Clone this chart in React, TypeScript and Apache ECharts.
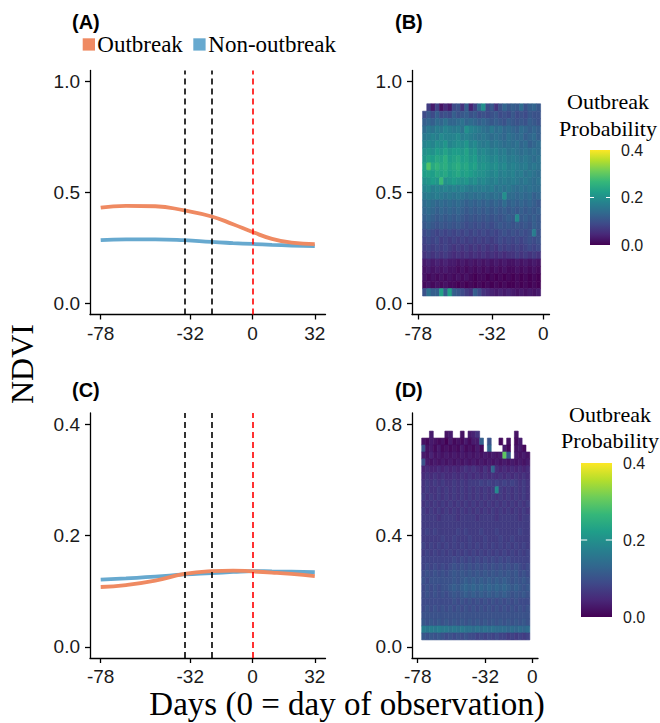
import React, { useEffect, useRef } from "react";
import * as echarts from "echarts";

// ---- Smoothed NDVI trajectories, days relative to the day of observation ----
const curveDays = [-78, -65, -50, -35, -21, -10, 0, 10, 20, 32];
const outbreakA = [0.432, 0.44, 0.438, 0.419, 0.392, 0.357, 0.322, 0.291, 0.274, 0.267];
const nonOutbreakA = [0.285, 0.289, 0.289, 0.285, 0.277, 0.272, 0.268, 0.264, 0.261, 0.258];
const outbreakC = [0.1075, 0.111, 0.119, 0.131, 0.136, 0.137, 0.1355, 0.1335, 0.131, 0.127];
const nonOutbreakC = [0.1206, 0.123, 0.126, 0.13, 0.1325, 0.1345, 0.136, 0.1355, 0.135, 0.134];

// Reference days marked with dashed lines
const blackRefDays = [-35, -21];
const redRefDay = 0;

// Tick values
const xTicksLine = [-78, -32, 0, 32];
const xTicksHeat = [-78, -32, 0];
const yTicksA = [0, 0.5, 1];
const yTicksC = [0, 0.2, 0.4];
const yTicksD = [0, 0.4, 0.8];
const colorbarTicks = [0.4, 0.2, 0.0];

// ---- Outbreak probability grids (lag day x NDVI bin) ----
// Each character is a probability in hundredths written in base 36
// ('0'..'9' = 0.00..0.09, 'A' = 0.10, 'K' = 0.20, 'U' = 0.30); '.' = no data.
// Rows are listed from the highest NDVI bin down to the lowest.
const heatDayStart = -75.3;
const heatDayStep = 2.63;

const heatBNdviStart = 1 / 30;
const heatBNdviStep = 1 / 30;
const heatBRows = [
  ".738253 9A6C48E K9B6ADB CBEACDB",
  "9B9C9A9 CABCAB9 A9AB9A9 B9A9BAA",
  "CDCEDFD DEFDEDC DCBCBAC BABACBA",
  "EGFHGIH GHFKIHG FEGEFDE DCEDCDC",
  "GHIHJII IJHIHGF GFEFEDF EDECDEC",
  "IJIKJLI JKJLIJH GHFGFEF EFDECDE",
  "KLKMLNL MMLNKLI JIHIGHF GFEFEFE",
  "LNMONPM NOMNLMJ KJIJHIG HGFGFEF",
  "NTOQOPN OPNOMNK LKJKIJH IHGHFGF",
  "MNMONOM NOMNMLK KJIJHIH IGHFGFE",
  "KLMLRKL MLKLJKI JIHIGHG HGFGFEF",
  "IJHIHIH IHIHGHG HGHFGFG FEFEFEE",
  "GHGHGFG FGFEFEF EFEFEKE EDEDECD",
  "EFEDEDE DEDCDCD CDCDCEC DCDCDCB",
  "DEDCDCD CDCBCBC BCBCBCB CBCBCBC",
  "CDCBCBC BCBABAB ABABABC BJBCBCB",
  "BCBABAB ABA9A9A 9A9ABAB ABABACB",
  "9A98989 8989898 98989A9 A9A9AHA",
  "8989787 8787878 7878989 8989A9A",
  "7878787 6767676 7676878 7878989",
  "6767676 5656565 6565656 6767676",
  "3434343 3232323 2323232 2323232",
  "2323232 2121212 1212121 1212121",
  "2121212 1212101 1010101 0101010",
  "1212121 1010101 0101010 0101010",
  "AFCCNCN CB976C9 6543434 3232323",
];

const heatDNdviStart = 0.025;
const heatDNdviStep = 0.025;
const heatDRows = [
  "..3...2 3..2.34 6...... ...2...",
  "2132120 3121313 3C.A..1 .2.13..",
  "A231312 1213121 31.D... 31.231.",
  "3242323 2323232 3232323 UB.3232",
  "A323232 3232323 2323232 3232323",
  "4544545 4545656 5464D54 5454545",
  "5656565 5656565 6565656 5656565",
  "6767676 6767677 7878787 8787676",
  "6766767 6767676 76767J7 6767676",
  "7676767 6767676 7676767 6767676",
  "6767676 7676767 6767676 7676767",
  "7676767 6767676 7676767 6767676",
  "7777677 7767777 6777767 7777677",
  "7777777 7777777 7777777 7777777",
  "7878777 7787877 7877787 7777877",
  "7777787 7877787 7787778 7787777",
  "8787878 7878787 8787878 7878787",
  "7878787 8787878 7878787 8787878",
  "8888888 8989898 9898989 8988888",
  "8989898 9A9A9A9 A9A9A9A 9A9A989",
  "9A9A9A9 ABABABA BABABAB ABAB9A9",
  "A9AAAAA ABABCBC BCBCBCB CBABABA",
  "9A9A9AA BCBCDCD CDCDCDC DCBCBAB",
  "9A9A9A9 ABABCBC BCBCBCB CBABABA",
  "9999999 9A9A9A9 A9A9A9A 9A9A999",
  "9A9A9A9 A9A9A9A 9A9A9A9 A9A9A9A",
  "AAAAAAA AAAAAAA AAAAAAA AAAAAAA",
  "BABABAB ABABABA BABABAB ABABABA",
  "HGHGHGG FGFGFFE FEFEFEE EDEDEDE",
  "BABABA9 A9A9A99 8989898 8787878",
];

const OUTBREAK_COLOR = "#EF8A62";
const NON_OUTBREAK_COLOR = "#67A9CF";
const VIRIDIS = [
  "#440154", "#482878", "#3E4A89", "#31688E", "#26828E",
  "#1F9E89", "#35B779", "#6DCD59", "#B4DE2C", "#FDE725",
];

const SANS = "'Liberation Sans', Arial, sans-serif";
const SERIF = "'Liberation Serif', 'Times New Roman', serif";

function decodeGrid(rows: string[], ndviStart: number, ndviStep: number) {
  const cells: number[][] = [];
  const n = rows.length;
  rows.forEach((line, i) => {
    const r = n - 1 - i;
    const chars = line.replace(/\s+/g, "");
    for (let c = 0; c < chars.length; c++) {
      const ch = chars[c];
      if (ch === ".") continue;
      const p = parseInt(ch, 36) / 100;
      cells.push([
        heatDayStart + heatDayStep * (c + 0.5),
        ndviStart + ndviStep * (r + 0.5),
        p,
      ]);
    }
  });
  return cells;
}

function tileRenderer(dw: number, dh: number) {
  return (params: any, api: any) => {
    const x = api.value(0);
    const y = api.value(1);
    const p0 = api.coord([x - dw / 2, y + dh / 2]);
    const p1 = api.coord([x + dw / 2, y - dh / 2]);
    const color = api.visual("color");
    return {
      type: "rect",
      shape: { x: p0[0], y: p0[1], width: p1[0] - p0[0], height: p1[1] - p0[1] },
      style: { fill: color, stroke: color, lineWidth: 0.6 },
    };
  };
}

function axisBase(ticks: number[], fmt: (v: number) => string, margin: number) {
  return {
    axisLine: { show: true, onZero: false, lineStyle: { color: "#000", width: 1.3 } },
    axisTick: {
      show: true,
      inside: false,
      length: 5,
      customValues: ticks,
      lineStyle: { color: "#000", width: 1.3 },
    },
    splitLine: { show: false },
    axisLabel: {
      customValues: ticks,
      formatter: (v: number) => fmt(v),
      color: "#1a1a1a",
      fontSize: 19,
      fontFamily: SANS,
      margin,
    },
  };
}

const fmtDay = (v: number) => String(Math.round(v));
const fmtNdvi = (v: number) => v.toFixed(1);

function dashedRefLines() {
  return {
    symbol: ["none", "none"],
    silent: true,
    label: { show: false },
    lineStyle: { type: [6, 4], width: 1.6 },
    data: [
      ...blackRefDays.map((d) => ({ xAxis: d, lineStyle: { color: "#000", type: [6, 4], width: 1.6 } })),
      { xAxis: redRefDay, lineStyle: { color: "#FF0000", type: [6, 4], width: 1.6 } },
    ],
  };
}

function colorbar(
  left: number,
  top: number,
  w: number,
  h: number,
  titleX: number,
  titleY: number,
  labelX: number
) {
  const els: any[] = [];
  els.push({
    type: "text",
    style: {
      text: "Outbreak",
      x: titleX,
      y: titleY,
      font: `22px ${SERIF}`,
      fill: "#000",
      textAlign: "center",
      textVerticalAlign: "middle",
      align: "center",
      verticalAlign: "middle",
    },
  });
  els.push({
    type: "text",
    style: {
      text: "Probability",
      x: titleX,
      y: titleY + 26.6,
      font: `22px ${SERIF}`,
      fill: "#000",
      textAlign: "center",
      textVerticalAlign: "middle",
      align: "center",
      verticalAlign: "middle",
    },
  });
  els.push({
    type: "rect",
    shape: { x: left, y: top, width: w, height: h },
    style: {
      fill: new echarts.graphic.LinearGradient(
        0, 1, 0, 0,
        VIRIDIS.map((c, i) => ({ offset: i / (VIRIDIS.length - 1), color: c }))
      ),
    },
  });
  const tickLen = w / 5;
  colorbarTicks.forEach((v) => {
    const y = top + h * (1 - v / 0.4);
    if (v > 0 && v < 0.4) {
      els.push({
        type: "line",
        shape: { x1: left, y1: y, x2: left + tickLen, y2: y },
        style: { stroke: "#ffffff", lineWidth: 1 },
      });
      els.push({
        type: "line",
        shape: { x1: left + w - tickLen, y1: y, x2: left + w, y2: y },
        style: { stroke: "#ffffff", lineWidth: 1 },
      });
    }
    els.push({
      type: "text",
      style: {
        text: v.toFixed(1),
        x: labelX,
        y,
        font: `16px ${SANS}`,
        fill: "#1a1a1a",
        textAlign: "left",
        textVerticalAlign: "middle",
        align: "left",
        verticalAlign: "middle",
      },
    });
  });
  return els;
}

function tag(text: string, x: number, y: number) {
  return {
    type: "text",
    style: {
      text,
      x,
      y,
      font: `bold 20px ${SANS}`,
      fill: "#000",
      textAlign: "left",
      textVerticalAlign: "middle",
      align: "left",
      verticalAlign: "middle",
    },
  };
}

export default function App() {
  const ref = useRef<HTMLDivElement>(null);

  useEffect(() => {
    if (!ref.current) return;
    const chart = echarts.init(ref.current, undefined, { renderer: "svg" });

    const cellsB = decodeGrid(heatBRows, heatBNdviStart, heatBNdviStep);
    const cellsD = decodeGrid(heatDRows, heatDNdviStart, heatDNdviStep);

    const option: any = {
      animation: false,
      backgroundColor: "#ffffff",
      grid: [
        { left: 90, top: 70.5, width: 235.5, height: 244 },
        { left: 412, top: 70.5, width: 137.5, height: 244 },
        { left: 90, top: 413, width: 235.5, height: 245 },
        { left: 412, top: 413, width: 126, height: 245 },
      ],
      xAxis: [
        { type: "value", gridIndex: 0, min: -83.5, max: 37.5, ...axisBase(xTicksLine, fmtDay, 9) },
        { type: "value", gridIndex: 1, min: -81.9, max: 3.9, ...axisBase(xTicksHeat, fmtDay, 9) },
        { type: "value", gridIndex: 2, min: -83.5, max: 37.5, ...axisBase(xTicksLine, fmtDay, 9) },
        { type: "value", gridIndex: 3, min: -81.9, max: 3.9, ...axisBase(xTicksHeat, fmtDay, 9) },
      ],
      yAxis: [
        { type: "value", gridIndex: 0, min: -0.05, max: 1.05, ...axisBase(yTicksA, fmtNdvi, 10) },
        { type: "value", gridIndex: 1, min: -0.05, max: 1.05, ...axisBase(yTicksA, fmtNdvi, 10) },
        { type: "value", gridIndex: 2, min: -0.02, max: 0.42, ...axisBase(yTicksC, fmtNdvi, 10) },
        { type: "value", gridIndex: 3, min: -0.04, max: 0.84, ...axisBase(yTicksD, fmtNdvi, 10) },
      ],
      visualMap: {
        show: false,
        type: "continuous",
        seriesIndex: [4, 5],
        dimension: 2,
        min: 0,
        max: 0.4,
        inRange: { color: VIRIDIS },
      },
      series: [
        {
          name: "Non-outbreak",
          type: "line",
          xAxisIndex: 0,
          yAxisIndex: 0,
          data: curveDays.map((d, i) => [d, nonOutbreakA[i]]),
          smooth: 0.5,
          showSymbol: false,
          symbol: "none",
          lineStyle: { color: NON_OUTBREAK_COLOR, width: 3.8 },
          z: 3,
        },
        {
          name: "Outbreak",
          type: "line",
          xAxisIndex: 0,
          yAxisIndex: 0,
          data: curveDays.map((d, i) => [d, outbreakA[i]]),
          smooth: 0.5,
          showSymbol: false,
          symbol: "none",
          lineStyle: { color: OUTBREAK_COLOR, width: 3.8 },
          z: 4,
          markLine: dashedRefLines(),
        },
        {
          name: "Non-outbreak",
          type: "line",
          xAxisIndex: 2,
          yAxisIndex: 2,
          data: curveDays.map((d, i) => [d, nonOutbreakC[i]]),
          smooth: 0.5,
          showSymbol: false,
          symbol: "none",
          lineStyle: { color: NON_OUTBREAK_COLOR, width: 3.8 },
          z: 3,
        },
        {
          name: "Outbreak",
          type: "line",
          xAxisIndex: 2,
          yAxisIndex: 2,
          data: curveDays.map((d, i) => [d, outbreakC[i]]),
          smooth: 0.5,
          showSymbol: false,
          symbol: "none",
          lineStyle: { color: OUTBREAK_COLOR, width: 3.8 },
          z: 4,
          markLine: dashedRefLines(),
        },
        {
          type: "custom",
          xAxisIndex: 1,
          yAxisIndex: 1,
          data: cellsB,
          encode: { x: 0, y: 1 },
          renderItem: tileRenderer(heatDayStep, heatBNdviStep),
          silent: true,
        },
        {
          type: "custom",
          xAxisIndex: 3,
          yAxisIndex: 3,
          data: cellsD,
          encode: { x: 0, y: 1 },
          renderItem: tileRenderer(heatDayStep, heatDNdviStep),
          silent: true,
        },
      ],
      graphic: [
        tag("(A)", 72, 22),
        tag("(B)", 395, 22),
        tag("(C)", 72, 390),
        tag("(D)", 395, 390),
        // legend for the trajectory panels
        {
          type: "rect",
          shape: { x: 82.7, y: 38.3, width: 12.3, height: 12.3 },
          style: { fill: OUTBREAK_COLOR },
        },
        {
          type: "text",
          style: {
            text: "Outbreak",
            x: 97.3,
            y: 44.5,
            font: `23px ${SERIF}`,
            fill: "#000",
            textAlign: "left",
            textVerticalAlign: "middle",
            align: "left",
            verticalAlign: "middle",
          },
        },
        {
          type: "rect",
          shape: { x: 193.3, y: 38.3, width: 12.3, height: 12.3 },
          style: { fill: NON_OUTBREAK_COLOR },
        },
        {
          type: "text",
          style: {
            text: "Non-outbreak",
            x: 208.3,
            y: 44.5,
            font: `23px ${SERIF}`,
            fill: "#000",
            textAlign: "left",
            textVerticalAlign: "middle",
            align: "left",
            verticalAlign: "middle",
          },
        },
        ...colorbar(590, 150, 20, 95, 608, 101.7, 621),
        ...colorbar(581, 463, 31, 154, 610, 414, 623),
        // shared axis titles
        {
          type: "text",
          x: 22,
          y: 364,
          rotation: Math.PI / 2,
          style: {
            text: "NDVI",
            x: 0,
            y: 0,
            font: `32px ${SERIF}`,
            fill: "#000",
            textAlign: "center",
            textVerticalAlign: "middle",
            align: "center",
            verticalAlign: "middle",
          },
        },
        {
          type: "text",
          style: {
            text: "Days (0 = day of observation)",
            x: 347,
            y: 703.5,
            font: `33px ${SERIF}`,
            fill: "#000",
            textAlign: "center",
            textVerticalAlign: "middle",
            align: "center",
            verticalAlign: "middle",
          },
        },
      ],
    };

    chart.setOption(option);
    return () => chart.dispose();
  }, []);

  return (
    <div
      ref={ref}
      style={{ position: "absolute", left: 0, top: 0, width: 660, height: 723, background: "#fff" }}
    />
  );
}
